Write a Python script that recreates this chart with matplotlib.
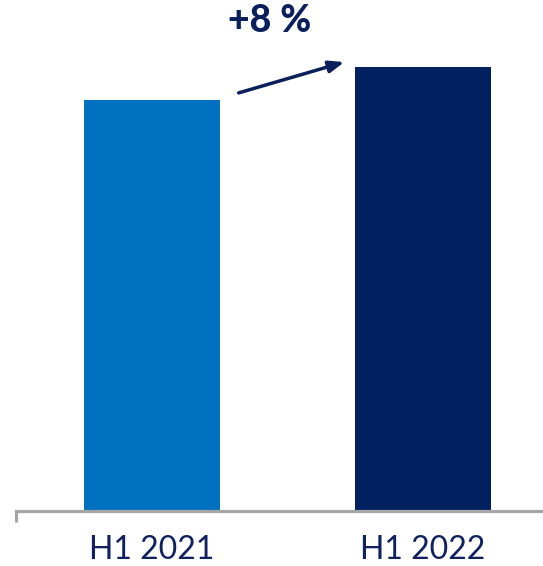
import matplotlib.pyplot as plt

categories = ['H1 2021', 'H1 2022']
values = [100, 108]
colors = ['#0070C0', '#002060']

navy = '#0F2160'
plt.rcParams['font.family'] = ['Lato', 'DejaVu Sans']

fig = plt.figure(figsize=(5.43, 5.66), dpi=100)
ax = fig.add_axes([15.6 / 543, 55 / 566, (543 - 15.6) / 543, 511 / 566])

x = range(len(categories))
ax.bar(x, values, width=0.502, color=colors, zorder=2)

ax.set_xlim(-0.503, 1.443)
ax.set_ylim(0, values[1] * 511 / 444)

for s in ['top', 'right', 'left']:
    ax.spines[s].set_visible(False)
ax.spines['bottom'].set_color('#A6A6A6')
ax.spines['bottom'].set_linewidth(2.3)
ax.set_yticks([])
ax.set_xticks(list(x))
ax.set_xticklabels(categories, fontsize=23, color=navy)
ax.tick_params(axis='x', which='major', length=0, pad=17)
ax.set_xticks([-0.503], minor=True)
ax.tick_params(axis='x', which='minor', length=8, width=2.3, color='#A6A6A6')

growth = round((values[1] / values[0] - 1) * 100)
ax.annotate('', xy=(0.71, values[1] + 1.2), xytext=(0.32, values[0] + 1.7),
            arrowprops=dict(arrowstyle='-|>,head_length=0.9,head_width=0.35',
                            color='#0B1F5C', lw=2.5, shrinkA=0, shrinkB=0))
ax.text(0.435, 119.3, f'+{growth} %', fontsize=27, fontweight='black',
        color='#0B1F5C', ha='center', va='center')

fig.savefig('out.png', dpi=100)
